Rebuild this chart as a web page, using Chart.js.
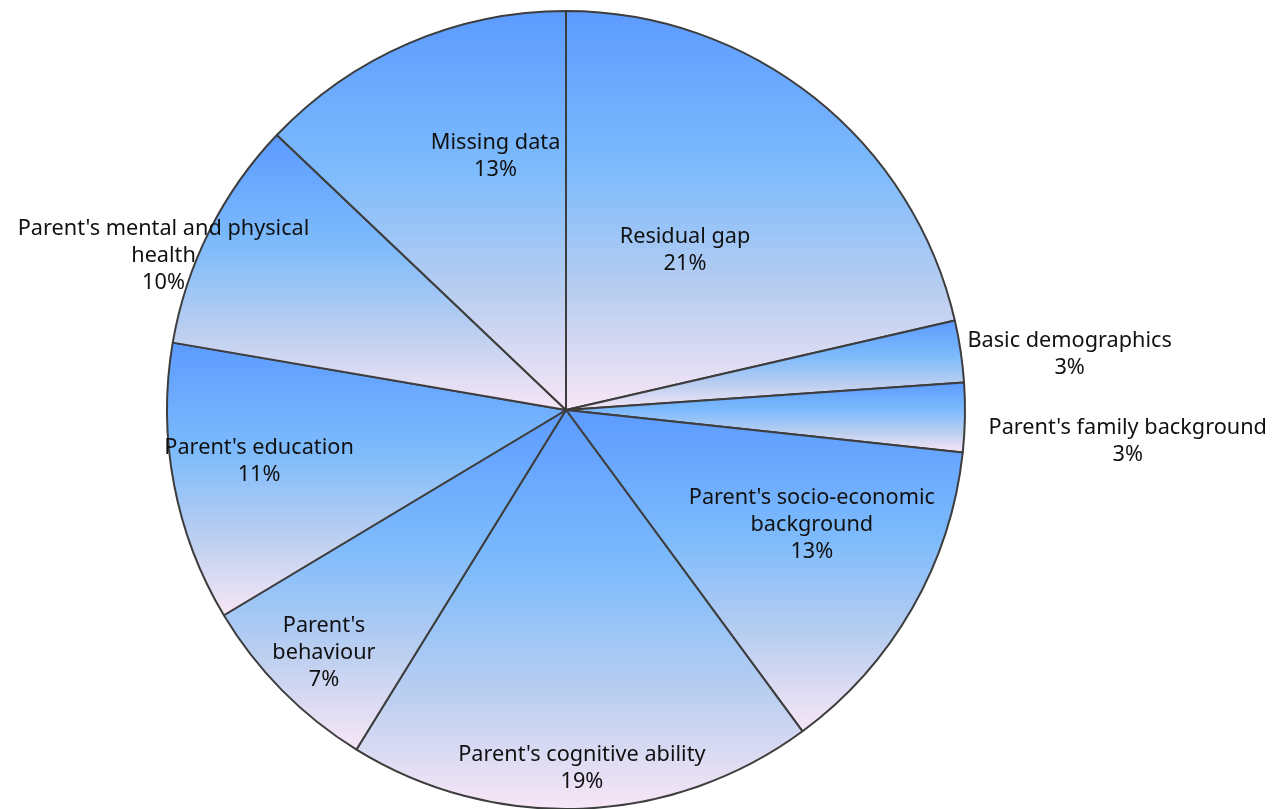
<!DOCTYPE html>
<html>
<head>
<meta charset="utf-8">
<script src="https://cdn.jsdelivr.net/npm/chart.js@4"></script>
<style>
  html, body { margin: 0; padding: 0; background: #ffffff; }
  #wrap { width: 1272px; height: 809px; position: relative; }
</style>
</head>
<body>
<div id="wrap"><canvas id="pieChart"></canvas></div>
<script>
// Categorias (quebras de linha como no original)
const categories = [
  ['Residual gap'],
  ['Basic demographics'],
  ["Parent's family background"],
  ["Parent's socio-economic", 'background'],
  ["Parent's cognitive ability"],
  ["Parent's", 'behaviour'],
  ["Parent's education"],
  ["Parent's mental and physical", 'health'],
  ['Missing data']
];

// Participacao de cada fatia
const shares = [21.4, 2.5, 2.8, 13.2, 18.9, 7.6, 11.3, 9.4, 12.9];

// Percentuais mostrados nos rotulos
const pctLabels = ['21%', '3%', '3%', '13%', '19%', '7%', '11%', '10%', '13%'];

// Posicao dos rotulos: deslocamento de angulo (graus) e fator de raio
const labelAngleShift = [-1.9, 2.1, 2.1, -4.85, -0.2, -0.5, 1.1, -5.7, 7.7];
const labelRadiusFactor = [0.50, 1.27, 1.41, 0.68, 0.90, 0.86, 0.78, 1.08, 0.66];

const PIE_RADIUS = 399;

/**
 * Gradiente vertical por fatia, do topo ao fundo da fatia
 */
function sliceGradient(context) {
  const chart = context.chart;
  const area = chart.chartArea;
  if (!area) return '#7cbafc';
  const i = context.dataIndex;
  const total = shares.reduce((a, b) => a + b, 0);
  let cum = 0;
  for (let k = 0; k < i; k++) cum += shares[k];
  const a0 = -Math.PI / 2 + 2 * Math.PI * cum / total;
  const a1 = -Math.PI / 2 + 2 * Math.PI * (cum + shares[i]) / total;
  const cx = (area.left + area.right) / 2;
  const cy = (area.top + area.bottom) / 2;
  const r = PIE_RADIUS;

  const ys = [cy, cy + r * Math.sin(a0), cy + r * Math.sin(a1)];
  [-Math.PI / 2, Math.PI / 2, 3 * Math.PI / 2].forEach(function(a) {
    if (a > a0 && a < a1) ys.push(cy + r * Math.sin(a));
  });
  const minY = Math.min.apply(null, ys);
  const maxY = Math.max.apply(null, ys);

  const g = chart.ctx.createLinearGradient(0, minY, 0, maxY);
  g.addColorStop(0, '#5c9bff');
  g.addColorStop(0.4, '#7dbbfc');
  g.addColorStop(0.72, '#bccff0');
  g.addColorStop(1, '#f8e6f6');
  return g;
}

// Plugin para desenhar os rotulos
const sliceLabels = {
  id: 'sliceLabels',
  afterDatasetsDraw(chart) {
    const ctx = chart.ctx;
    const meta = chart.getDatasetMeta(0);
    ctx.save();
    ctx.font = '21.7px "Noto Sans", sans-serif';
    ctx.fillStyle = '#111111';
    ctx.textAlign = 'center';
    ctx.textBaseline = 'middle';
    const lineHeight = 27;
    meta.data.forEach(function(arc, i) {
      const mid = (arc.startAngle + arc.endAngle) / 2 + labelAngleShift[i] * Math.PI / 180;
      const rr = arc.outerRadius * labelRadiusFactor[i];
      const x = arc.x + rr * Math.cos(mid);
      const y = arc.y + rr * Math.sin(mid);
      const lines = categories[i].concat([pctLabels[i]]);
      const top = y - (lines.length - 1) * lineHeight / 2;
      lines.forEach(function(line, j) {
        ctx.fillText(line, x, top + j * lineHeight);
      });
    });
    ctx.restore();
  }
};

const ctx = document.getElementById('pieChart').getContext('2d');

const pieChart = new Chart(ctx, {
  type: 'pie',
  data: {
    labels: categories,
    datasets: [{
      data: shares,
      backgroundColor: sliceGradient,
      borderColor: '#3d3d3d',
      borderWidth: 2,
      radius: PIE_RADIUS
    }]
  },
  options: {
    responsive: true,
    maintainAspectRatio: false,
    animation: false,
    layout: {
      padding: { left: 166, right: 306, top: 11, bottom: 0 }
    },
    plugins: {
      legend: { display: false },
      tooltip: { enabled: false }
    }
  },
  plugins: [sliceLabels]
});
</script>
</body>
</html>
